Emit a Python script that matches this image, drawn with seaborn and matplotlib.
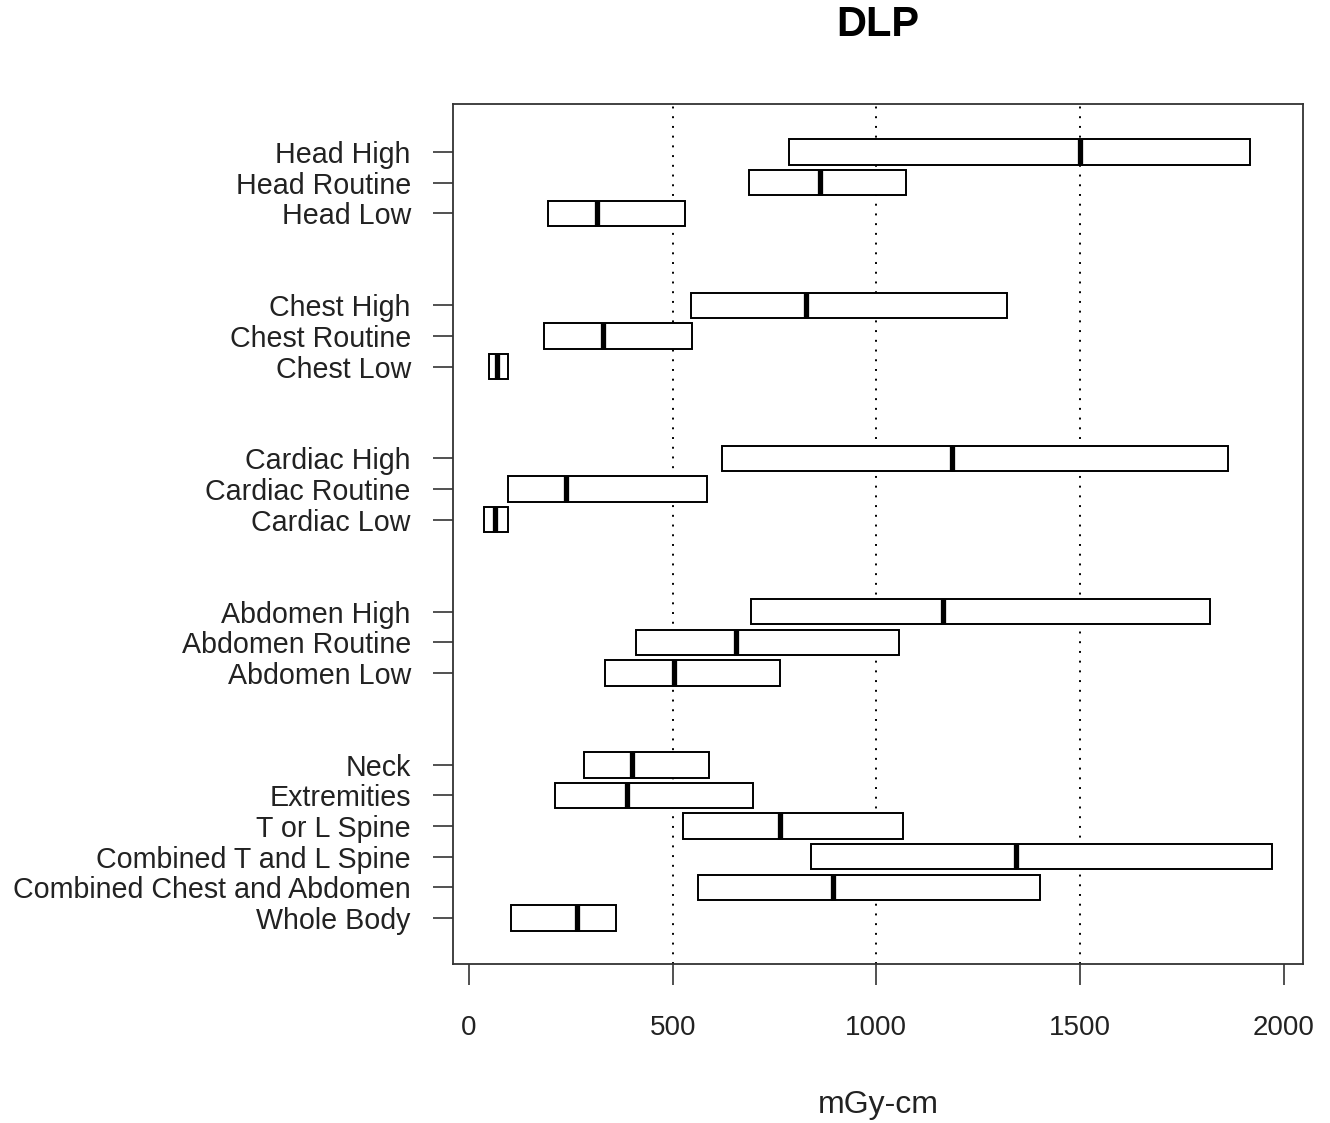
import matplotlib
matplotlib.use("Agg")
import matplotlib.pyplot as plt
import seaborn as sns
import pandas as pd

# ---- data ----
categories = [
    "Head High", "Head Routine", "Head Low",
    "Chest High", "Chest Routine", "Chest Low",
    "Cardiac High", "Cardiac Routine", "Cardiac Low",
    "Abdomen High", "Abdomen Routine", "Abdomen Low",
    "Neck", "Extremities", "T or L Spine", "Combined T and L Spine",
    "Combined Chest and Abdomen", "Whole Body",
]
q1 = [785, 687, 194, 545, 184, 49, 621, 96, 37, 692, 410, 334,
      282, 211, 525, 839, 562, 103]
median = [1499, 861, 314, 827, 329, 69, 1185, 238, 64, 1163, 655, 503,
          400, 388, 763, 1342, 893, 265]
q3 = [1917, 1072, 530, 1320, 547, 96, 1863, 584, 96, 1818, 1055, 763,
      589, 697, 1065, 1971, 1401, 361]
groups = [3, 3, 3, 3, 6]          # rows per group, two blank rows between groups
x_ticks = [0, 500, 1000, 1500, 2000]
grid_x = [500, 1000, 1500]
title = "DLP"
x_label = "mGy-cm"

# ---- build long table: each row gives a box from q1..q3 with median ----
rows = []
for c, a, m, b in zip(categories, q1, median, q3):
    for v in (a, a, m, b, b):
        rows.append({"cat": c, "val": v})
df = pd.DataFrame(rows)

order = []
idx = 0
for gi, n in enumerate(groups):
    order.extend(categories[idx:idx + n])
    idx += n
    if gi < len(groups) - 1:
        order.extend([f"_gap{gi}a", f"_gap{gi}b"])

plt.rcParams["font.family"] = ["Liberation Sans", "DejaVu Sans"]

fig = plt.figure(figsize=(13.3, 11.23), dpi=100)
ax = fig.add_axes([453 / 1330, 1 - 964 / 1123, 850 / 1330, 860 / 1123])

for gx in grid_x:
    ax.axvline(gx, color="black", lw=1.4, ls=(0, (1, 4)), zorder=0)

sns.boxplot(data=df, x="val", y="cat", order=order, orient="h", ax=ax,
            whis=0, showcaps=False, showfliers=False, width=0.83,
            color="white", linecolor="black", linewidth=1.4,
            medianprops={"linewidth": 3.8, "color": "black"},
            boxprops={"zorder": 2})

pos = [i for i, c in enumerate(order) if not c.startswith("_gap")]
ax.set_yticks(pos)
ax.set_yticklabels([order[i] for i in pos], fontsize=20.6, color="#222222")
ax.set_xticks(x_ticks)
ax.set_xticklabels([str(t) for t in x_ticks], fontsize=20, color="#222222")
ax.set_xlim(-39, 2047)
ax.set_ylim(len(order) - 1 + 1.5, -1.57)

ax.tick_params(axis="y", length=14.4, width=1.2, color="#333333", pad=16)
ax.tick_params(axis="x", length=15, width=1.2, color="#333333", pad=22)
for s in ax.spines.values():
    s.set_linewidth(1.3)
    s.set_color("#333333")

ax.set_ylabel("")
ax.set_xlabel(x_label, fontsize=23, color="#222222")
ax.xaxis.set_label_coords(0.5, -(1105 - 964) / 860)
ax.xaxis.label.set_va("center")
ax.set_title(title, fontsize=30, fontweight="bold", y=1 + (104 - 25) / 860,
             va="center", pad=0)

fig.savefig("out.png", dpi=100)
